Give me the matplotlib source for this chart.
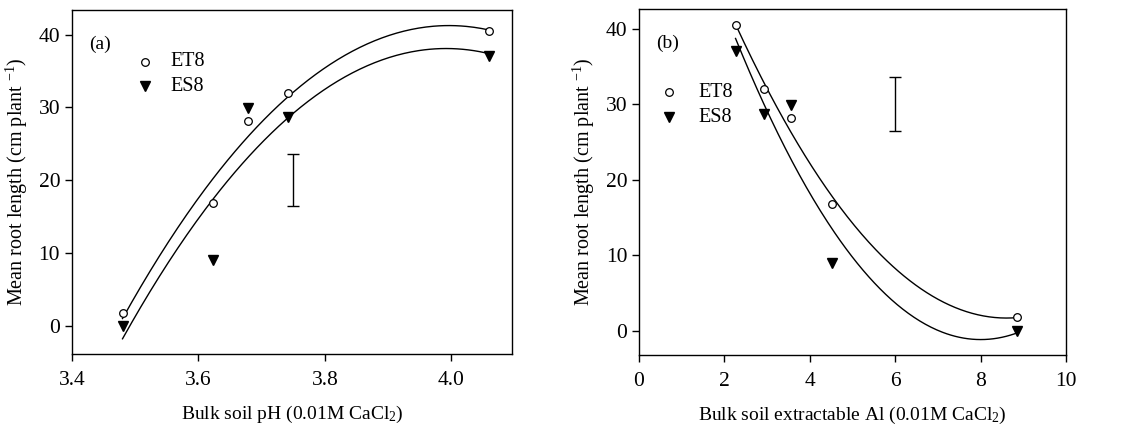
import numpy as np
import matplotlib
matplotlib.use('Agg')
import matplotlib.pyplot as plt

plt.rcParams['font.family'] = ['Liberation Serif', 'DejaVu Serif']
plt.rcParams['mathtext.fontset'] = 'custom'
plt.rcParams['mathtext.rm'] = 'Liberation Serif'
plt.rcParams['mathtext.it'] = 'Liberation Serif:italic'

# data
soil_ph = [3.48, 3.623, 3.679, 3.741, 4.059]
soil_al = [8.86, 4.53, 3.55, 2.92, 2.26]
et8 = [1.8, 16.8, 28.2, 32.0, 40.5]
es8 = [0.0, 9.0, 29.9, 28.7, 37.1]

# LSD bars (x, centre, half length)
lsd_a = (3.75, 20.0, 3.6)
lsd_b = (6.0, 30.0, 3.6)

fig = plt.figure(figsize=(11.44, 4.26), dpi=100)
ax1 = fig.add_axes([0.0629, 0.169, 0.3846, 0.8075])
ax2 = fig.add_axes([0.5586, 0.1667, 0.3733, 0.8122])


def panel(ax, x, lsd, letter, xlabel):
    x = np.array(x)
    xs = np.linspace(x.min(), x.max(), 200)
    for y in (et8, es8):
        c = np.polyfit(x, y, 2)
        ax.plot(xs, np.polyval(c, xs), color='black', lw=1.0, zorder=2)
    ax.plot(x, et8, 'o', ms=5.5, mfc='white', mec='black', mew=0.9, zorder=3)
    ax.plot(x, es8, 'v', ms=6.5, color='black', zorder=3)
    ax.errorbar([lsd[0]], [lsd[1]], yerr=[lsd[2]], color='black', lw=1.0,
                capsize=4, capthick=1.0)
    ax.text(0.04, 0.90, letter, transform=ax.transAxes, fontsize=14, va='center')
    ax.set_ylabel('Mean root length (cm plant $^{-1}$)', fontsize=14.5, labelpad=6)
    ax.set_xlabel(xlabel, fontsize=14, labelpad=10)
    ax.tick_params(axis='x', pad=7)
    ax.tick_params(direction='out', length=5, width=1, labelsize=15.5,
                   top=False, right=False)
    ax.set_yticks([0, 10, 20, 30, 40])
    for s in ax.spines.values():
        s.set_linewidth(1.0)


panel(ax1, soil_ph, lsd_a, '(a)', 'Bulk soil pH (0.01M CaCl$_2$)')
ax1.set_xlim(3.4, 4.096)
ax1.set_ylim(-3.9, 43.4)
ax1.set_xticks([3.4, 3.6, 3.8, 4.0])
ax1.set_xticklabels(['3.4', '3.6', '3.8', '4.0'])

panel(ax2, soil_al, lsd_b, '(b)', 'Bulk soil extractable Al (0.01M CaCl$_2$)')
ax2.set_xlim(0, 10)
ax2.set_ylim(-3.2, 42.6)
ax2.set_xticks([0, 2, 4, 6, 8, 10])

# legends drawn as markers + text inside the axes
for ax, (mx, tx, y1, y2) in ((ax1, (3.515, 3.555, 36.3, 32.9)),
                             (ax2, (0.7, 1.4, 31.6, 28.3))):
    ax.plot([mx], [y1], 'o', ms=5.5, mfc='white', mec='black', mew=0.9)
    ax.plot([mx], [y2], 'v', ms=6.5, color='black')
    ax.text(tx, y1, 'ET8', fontsize=14.5, va='center')
    ax.text(tx, y2, 'ES8', fontsize=14.5, va='center')

fig.savefig('out.png', dpi=100)
